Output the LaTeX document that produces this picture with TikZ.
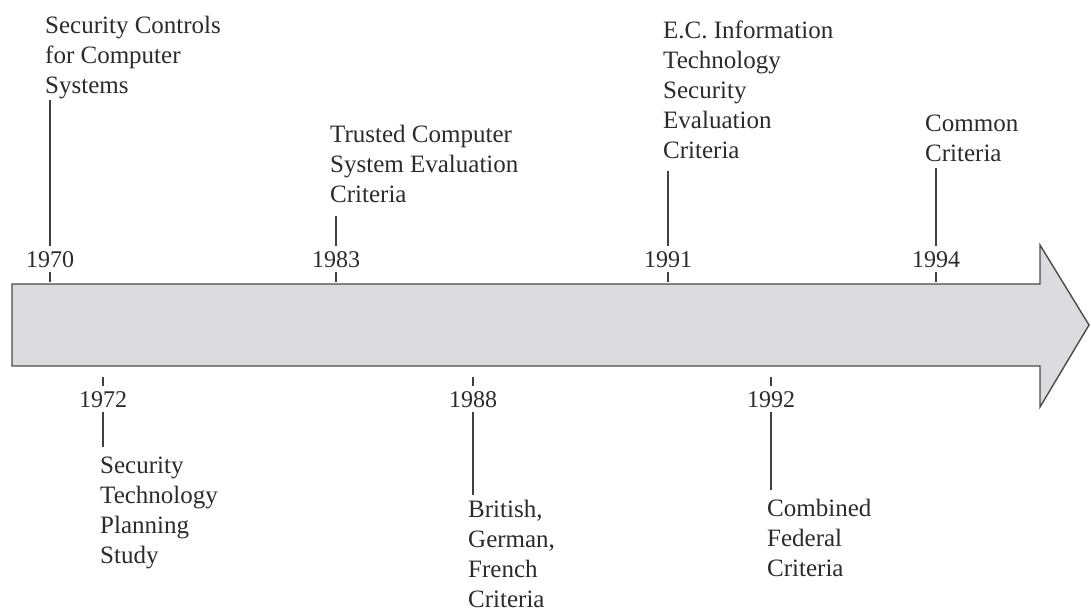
\documentclass[tikz,border=0pt]{standalone}
\usepackage{fontspec}
\setmainfont{Liberation Serif}
\definecolor{arrowfill}{HTML}{DCDCDE}
\definecolor{arrowline}{HTML}{4A4A4A}
\definecolor{txt}{HTML}{2B2B2B}
\definecolor{linec}{HTML}{404040}
\begin{document}
\begin{tikzpicture}[x=1pt,y=-1pt,
  lbl/.style={anchor=north west,inner sep=0pt,align=left,text=txt,font=\fontsize{25}{30}\selectfont},
  yr/.style={anchor=base,inner sep=0pt,text=txt,font=\fontsize{24}{28}\selectfont},
  conn/.style={draw=linec,line width=1.1pt}]
\useasboundingbox (0,0) rectangle (1091,611);
% arrow
\coordinate (tl) at (12,284);
\coordinate (sh1) at (1040,284);
\coordinate (ht) at (1040,245);
\coordinate (tip) at (1089,325);
\coordinate (hb) at (1040,407);
\coordinate (sh2) at (1040,366);
\coordinate (bl) at (12,366);
\draw[fill=arrowfill,draw=arrowline,line width=1.4pt,line join=miter]
  (tl) -- (sh1) -- (ht) -- (tip) -- (hb) -- (sh2) -- (bl) -- cycle;
% top labels
\node[lbl] (t1970) at (45,16) {Security Controls\\for Computer\\Systems};
\node[lbl] (t1983) at (330,125) {Trusted Computer\\System Evaluation\\Criteria};
\node[lbl] (t1991) at (663,21) {E.C. Information\\Technology\\Security\\Evaluation\\Criteria};
\node[lbl] (t1994) at (925,115) {Common\\Criteria};
% bottom labels
\node[lbl] (t1972) at (100,457) {Security\\Technology\\Planning\\Study};
\node[lbl] (t1988) at (468,500) {British,\\German,\\French\\Criteria};
\node[lbl] (t1992) at (767,499) {Combined\\Federal\\Criteria};
% years
\node[yr] (y1970) at (50,267) {1970};
\node[yr] (y1983) at (336,267) {1983};
\node[yr] (y1991) at (668,267) {1991};
\node[yr] (y1994) at (936,267) {1994};
\node[yr] (y1972) at (103,407) {1972};
\node[yr] (y1988) at (473,407) {1988};
\node[yr] (y1992) at (771,407) {1992};
% upper ticks and connectors
\foreach \y/\len in {1970/146,1983/30,1991/75,1994/78}{
  \draw[conn] ([yshift=-5pt]y\y.south) -- ++(0,10);
  \draw[conn] ([yshift=5pt]y\y.north) -- ++(0,-\len);
}
% lower ticks and connectors
\foreach \y/\len in {1972/35,1988/83,1992/78}{
  \draw[conn] ([yshift=5pt]y\y.north) -- ++(0,-9);
  \draw[conn] ([yshift=-5pt]y\y.south) -- ++(0,\len);
}
\end{tikzpicture}
\end{document}
